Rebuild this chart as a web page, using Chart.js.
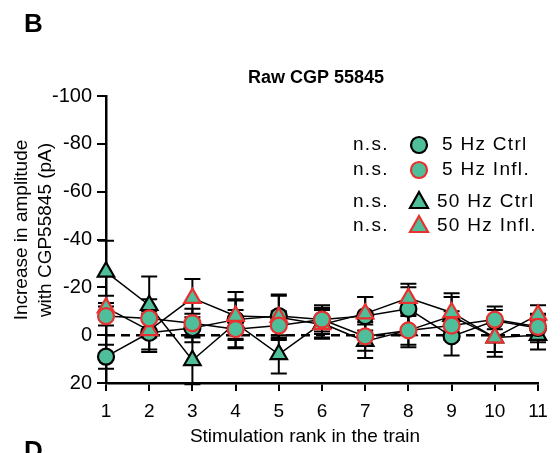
<!DOCTYPE html>
<html>
<head>
<meta charset="utf-8">
<script src="https://cdn.jsdelivr.net/npm/chart.js@4"></script>
<style>
  html, body { margin: 0; padding: 0; background: #fff; }
</style>
</head>
<body>
<canvas id="chart" width="560" height="453"></canvas>
<script>
// stimulation rank 1..11
const ranks = [1, 2, 3, 4, 5, 6, 7, 8, 9, 10, 11];

const ctrl5 = [9, -1, -3, -6.5, -8, -6.5, -8, -11, 0.5, -6, -3];
const ctrl5Err = [5, 8, 6, 8, 9, 6, 8, 9, 8, 6, 6];
const infl5 = [-8, -7, -5, -2.5, -4, -6.5, 0.5, -2, -4, -6.5, -3.5];
const infl5Err = [4, 8, 6, 8, 6, 5, 6, 6, 6, 4, 5];
const ctrl50 = [-26.5, -12.5, 10.5, -5, 8, -5, 2.5, -2, -8, 1, 0];
const ctrl50Err = [13, 12, 10, 10, 8, 6, 7, 7, 8, 8, 6];
const infl50 = [-11.5, -2, -15.5, -8, -7.5, -4.5, -9, -15.5, -9.5, 1, -8.5];
const infl50Err = [5, 8, 8, 10, 9, 6, 7, 6, 8, 6, 4];

const yTicks = [-100, -80, -60, -40, -20, 0, 20];

const seriesNames = ['5 Hz Ctrl', '5 Hz Infl.', '50 Hz Ctrl', '50 Hz Infl.'];

const GREEN = '#4fbf9b';
const RED = '#e8312f';
const FONT = "'Liberation Sans', Arial, sans-serif";

function pts(vals) {
    return vals.map((v, i) => ({ x: ranks[i], y: v }));
}

function makeSet(label, vals, errs, style, edge) {
    return {
        label: label,
        data: pts(vals),
        errors: errs,
        showLine: true,
        clip: false,
        borderColor: '#000',
        borderWidth: 1.5,
        pointStyle: style,
        pointRadius: style === 'triangle' ? 9.5 : 8,
        pointHoverRadius: style === 'triangle' ? 9.5 : 8,
        pointBackgroundColor: GREEN,
        pointBorderColor: edge,
        pointBorderWidth: 2.2,
        tension: 0
    };
}

const errorBars = {
    id: 'errorBars',
    beforeDatasetsDraw(chart) {
        const ctx = chart.ctx;
        const xs = chart.scales.x, ys = chart.scales.y;
        ctx.save();
        ctx.strokeStyle = '#000';
        // dashed zero line
        ctx.setLineDash([9, 6]);
        ctx.lineWidth = 2.5;
        ctx.beginPath();
        ctx.moveTo(chart.chartArea.left, ys.getPixelForValue(0));
        ctx.lineTo(chart.chartArea.right, ys.getPixelForValue(0));
        ctx.stroke();
        ctx.setLineDash([]);
        ctx.lineWidth = 2;
        chart.data.datasets.forEach(ds => {
            ds.data.forEach((p, i) => {
                const e = ds.errors[i];
                const px = xs.getPixelForValue(p.x);
                const y1 = ys.getPixelForValue(p.y - e);
                const y2 = ys.getPixelForValue(p.y + e);
                ctx.beginPath();
                ctx.moveTo(px, y1); ctx.lineTo(px, y2);
                ctx.moveTo(px - 8, y1); ctx.lineTo(px + 8, y1);
                ctx.moveTo(px - 8, y2); ctx.lineTo(px + 8, y2);
                ctx.stroke();
            });
        });
        ctx.restore();
    }
};

function marker(ctx, style, edge, x, y) {
    ctx.save();
    ctx.fillStyle = GREEN;
    ctx.strokeStyle = edge;
    ctx.lineWidth = 2.2;
    ctx.beginPath();
    if (style === 'circle') {
        ctx.arc(x, y, 8, 0, Math.PI * 2);
    } else {
        ctx.moveTo(x, y - 10);
        ctx.lineTo(x + 9, y + 6);
        ctx.lineTo(x - 9, y + 6);
        ctx.closePath();
    }
    ctx.fill();
    ctx.stroke();
    ctx.restore();
}

const decorations = {
    id: 'decorations',
    afterDraw(chart) {
        const ctx = chart.ctx;
        ctx.save();
        ctx.fillStyle = '#000';

        ctx.font = 'bold 26px ' + FONT;
        ctx.textAlign = 'left';
        ctx.textBaseline = 'alphabetic';
        ctx.fillText('B', 24, 32);
        ctx.fillText('D', 24, 459);

        ctx.font = 'bold 18px ' + FONT;
        ctx.textAlign = 'center';
        ctx.textBaseline = 'middle';
        ctx.fillText('Raw CGP 55845', 316, 78);

        ctx.font = '19px ' + FONT;
        ctx.fillText('Stimulation rank in the train', 305, 437);

        ctx.save();
        ctx.translate(22, 230);
        ctx.rotate(-Math.PI / 2);
        ctx.fillText('Increase in amplitude', 0, 0);
        ctx.restore();
        ctx.save();
        ctx.translate(46, 230);
        ctx.rotate(-Math.PI / 2);
        ctx.fillText('with CGP55845 (pA)', 0, 0);
        ctx.restore();

        // legend
        const rows = [145, 170, 202, 226];
        const styles = ['circle', 'circle', 'triangle', 'triangle'];
        const edges = ['#000', RED, '#000', RED];
        const textX = [442, 442, 437, 437];
        ctx.textAlign = 'left';
        ctx.letterSpacing = '1.3px';
        rows.forEach((ry, i) => {
            ctx.fillStyle = '#000';
            ctx.fillText('n.s.', 353, ry);
            marker(ctx, styles[i], edges[i], 419, ry);
            ctx.fillStyle = '#000';
            ctx.fillText(seriesNames[i], textX[i], ry);
        });
        ctx.restore();
    }
};

const axisGrid = {
    display: true,
    drawOnChartArea: false,
    drawTicks: true,
    color: '#000',
    lineWidth: 2
};

new Chart(document.getElementById('chart'), {
    type: 'scatter',
    data: {
        datasets: [
            makeSet(seriesNames[1], infl5, infl5Err, 'circle', RED),
            makeSet(seriesNames[3], infl50, infl50Err, 'triangle', RED),
            makeSet(seriesNames[0], ctrl5, ctrl5Err, 'circle', '#000'),
            makeSet(seriesNames[2], ctrl50, ctrl50Err, 'triangle', '#000')
        ]
    },
    options: {
        responsive: false,
        animation: false,
        devicePixelRatio: 1,
        layout: { padding: { top: 96, right: 22, left: 0, bottom: 0 } },
        plugins: {
            legend: { display: false },
            tooltip: { enabled: false },
            title: { display: false }
        },
        scales: {
            x: {
                type: 'linear',
                min: 1,
                max: 11,
                afterFit: s => { s.height = 70; },
                afterBuildTicks: s => { s.ticks = ranks.map(v => ({ value: v })); },
                ticks: { color: '#000', font: { size: 19, family: FONT }, padding: 9, maxRotation: 0 },
                grid: Object.assign({}, axisGrid, { tickLength: 8 }),
                border: { display: true, color: '#000', width: 2.5 }
            },
            y: {
                reverse: true,
                min: -100,
                max: 20,
                afterFit: s => { s.width = 106; },
                afterBuildTicks: s => { s.ticks = yTicks.map(v => ({ value: v })); },
                ticks: { color: '#000', font: { size: 20, family: FONT }, padding: 5 },
                grid: Object.assign({}, axisGrid, { tickLength: 9 }),
                border: { display: true, color: '#000', width: 2.5 }
            }
        }
    },
    plugins: [errorBars, decorations]
});
</script>
</body>
</html>
